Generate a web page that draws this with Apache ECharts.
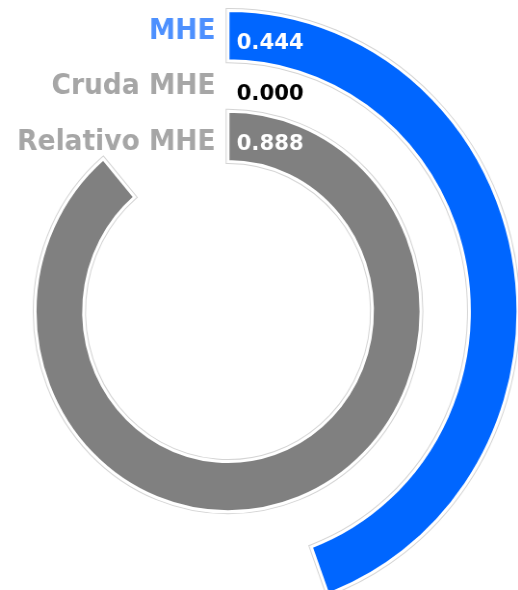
<!DOCTYPE html>
<html>
<head>
<meta charset="utf-8">
<script src="https://cdn.jsdelivr.net/npm/echarts@6/dist/echarts.min.js"></script>
<style>
html,body{margin:0;padding:0;background:#fff;overflow:hidden;width:518px;height:590px;}
#chart{width:538px;height:590px;transform:scaleX(0.963);transform-origin:0 0;}
</style>
</head>
<body>
<div id="chart"></div>
<script>
// Categories from inner ring to outer ring
const categories = ['Relativo MHE', 'Cruda MHE', 'MHE'];
const values = [0.888, 0.000, 0.444];
const barColors = ['#808080', '#ffffff', '#0066ff'];
const valueLabelColors = ['#ffffff', '#000000', '#ffffff'];
const categoryLabelColors = ['#a6a6a6', '#a6a6a6', '#4d90fe'];

const chart = echarts.init(document.getElementById('chart'), null, {renderer: 'canvas'});

function items(withLabel) {
  return values.map((v, i) => ({
    value: v,
    itemStyle: {color: barColors[i]},
    label: withLabel ? {color: valueLabelColors[i]} : {show: false}
  }));
}

const labelPads = [[13, 0, 0, 0], [2, 0, 0, 0], [0, 0, 7, 0]];
const rich = {};
categories.forEach((c, i) => {
  rich['c' + i] = {
    color: categoryLabelColors[i], fontSize: 27.5, fontWeight: 'bold',
    fontFamily: 'DejaVu Sans', padding: labelPads[i]
  };
});

chart.setOption({
  animation: false,
  backgroundColor: '#ffffff',
  polar: {center: [236.8, 311.5], radius: [150, 301]},
  angleAxis: {
    type: 'value', min: 0, max: 1, startAngle: 90, clockwise: true,
    axisLine: {show: false}, axisTick: {show: false}, axisLabel: {show: false}, splitLine: {show: false}
  },
  radiusAxis: {
    type: 'category', data: categories,
    axisLine: {show: false}, axisTick: {show: false}, splitLine: {show: false},
    axisLabel: {
      show: true, margin: 13, interval: 0, hideOverlap: false,
      formatter: function (val, idx) { return '{c' + idx + '|' + val + '}'; },
      rich: rich
    }
  },
  series: [
    {
      type: 'bar', coordinateSystem: 'polar', data: items(false),
      barCategoryGap: '0%', barGap: '-100%',
      itemStyle: {borderColor: '#d4d4d4', borderWidth: 5},
      silent: true
    },
    {
      type: 'bar', coordinateSystem: 'polar', data: items(true),
      barCategoryGap: '0%', barGap: '-100%',
      itemStyle: {borderColor: '#ffffff', borderWidth: 3},
      label: {
        show: true, position: 'insideStart', offset: [4, 8],
        formatter: function (p) { return p.value.toFixed(3); },
        fontSize: 22, fontWeight: 'bold', fontFamily: 'DejaVu Sans'
      }
    }
  ]
});
</script>
</body>
</html>
